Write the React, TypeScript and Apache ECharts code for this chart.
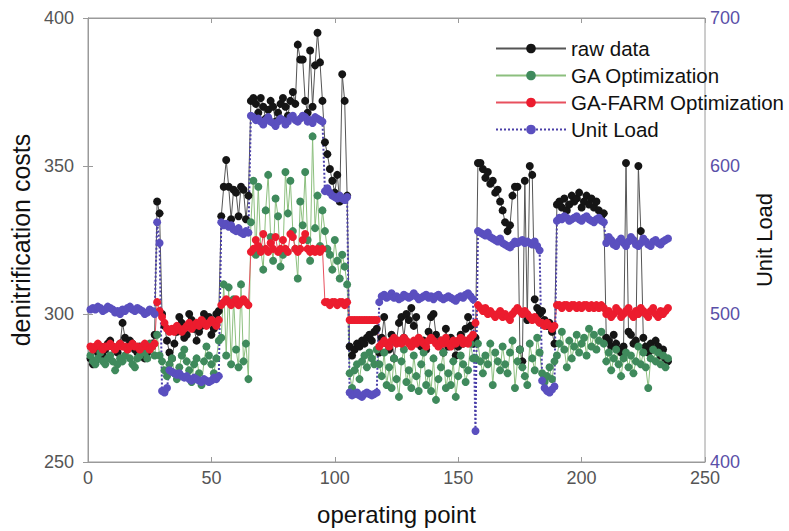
import React, { useEffect, useRef } from "react";
import * as echarts from "echarts";

const xTicks = [0, 50, 100, 150, 200, 250];
const leftTicks = [250, 300, 350, 400];
const rightTicks = [400, 500, 600, 700];
const seriesNames = ["raw data", "GA Optimization", "GA-FARM Optimization", "Unit Load"];

const rawData = [
  285,283,284,287,289,286,288,290,291,289,288,287,290,297,292,289,291,290,288,287,289,286,285,287,289,290,293,
  338,334,
  300,296,291,287,285,290,294,299,297,292,293,300,298,295,291,294,296,300,297,299,293,295,300,301,
  333,343,352,343,332,342,341,333,343,342,332,340,
  372,373,371,368,373,370,366,369,372,370,365,368,371,373,370,367,372,375,371,391,386,386,372,368,389,370,384,395,385,372,
  358,354,349,345,341,347,338,381,372,340,
  289,286,288,290,289,291,290,292,293,291,294,295,
  287,292,299,290,288,293,285,291,297,299,292,300,298,302,296,299,290,289,291,288,294,299,300,293,290,291,287,295,289,292,291,286,289,293,290,295,299,296,290,
  292,
  351,351,349,346,348,344,345,341,342,338,335,331,328,330,340,343,343,288,284,345,298,350,347,305,302,300,
  301,298,296,297,294,290,
  337,338,336,339,335,337,340,338,339,341,336,338,340,337,339,336,338,335,333,334,
  292,291,289,293,290,288,287,289,351,294,293,290,291,350,328,292,289,287,290,288,291,289,286,288,285,284,
];

const gaData = [
  286,284,283,285,287,284,283,285,286,284,281,283,285,284,286,288,285,283,282,285,286,288,287,285,290,289,286,
  293,286,
  284,281,279,283,285,280,278,282,286,288,284,281,277,283,285,280,276,284,289,286,283,280,285,291,
  292,310,286,309,283,305,288,282,310,284,290,278,
  331,345,320,343,322,315,335,347,326,318,339,333,316,320,348,334,345,328,322,312,338,330,348,325,318,360,329,340,323,335,
  328,322,320,315,325,318,312,320,316,310,
  280,275,281,283,278,284,286,282,287,285,283,288,
  283,279,287,276,282,275,285,278,272,284,288,277,281,275,286,279,274,283,287,276,280,274,285,271,278,282,287,275,280,276,284,272,279,286,283,277,281,290,285,
  285,
  290,284,280,286,283,290,276,287,284,281,289,283,280,287,291,275,284,288,282,279,276,290,285,281,292,287,
  280,277,279,282,278,284,
  286,290,294,288,282,291,285,289,293,287,290,292,286,295,289,293,288,291,294,290,
  284,287,281,285,288,283,279,285,287,282,286,280,284,289,283,287,282,275,285,288,284,287,283,286,282,285,
];

const farmData = [
  289,288,289,290,289,288,289,289,290,289,288,289,290,289,289,288,289,290,289,289,288,289,290,289,288,289,290,
  304,301,
  299,297,295,294,295,294,296,295,294,295,296,297,295,296,297,296,298,297,296,297,298,297,296,298,
  303,304,305,304,303,304,305,303,304,305,304,303,
  321,322,325,323,321,327,322,321,324,322,326,321,322,325,322,321,327,326,322,321,322,325,327,322,321,322,321,322,321,322,
  304,304,303,304,304,303,304,304,303,304,
  298,298,298,298,298,298,298,298,298,298,298,298,
  289,290,291,290,289,291,292,290,291,290,292,291,290,289,291,290,292,291,290,289,291,292,291,290,289,291,290,292,290,289,291,290,291,292,290,291,290,292,293,
  297,
  303,302,301,302,300,301,300,299,300,301,299,300,299,298,300,301,302,301,300,301,300,299,298,299,298,297,
  297,296,297,296,295,296,
  303,303,302,303,303,302,303,303,302,303,302,303,303,302,303,302,303,302,303,302,
  300,301,299,300,302,301,299,300,301,302,300,299,301,300,302,301,300,299,301,302,300,299,301,300,301,302,
];

const unitLoad = [
  503,504,503,505,504,502,503,505,504,503,501,502,500,503,502,504,505,503,502,504,503,502,500,501,503,502,500,
  562,548,
  448,447,450,462,461,460,459,460,458,457,458,456,455,457,456,455,454,456,455,454,455,457,456,458,
  562,560,561,559,560,557,556,558,555,554,556,555,
  634,633,631,632,630,628,631,633,630,629,627,630,632,631,628,630,633,634,631,630,632,634,633,630,631,629,633,632,631,630,
  583,585,582,580,579,578,580,578,577,579,
  447,445,446,447,445,444,446,447,446,445,446,447,
  508,512,513,511,512,514,511,512,510,511,513,512,511,512,514,512,510,511,512,513,511,512,510,512,513,511,510,511,512,511,510,509,511,512,511,513,514,512,510,
  421,
  556,555,554,553,555,552,551,550,549,551,548,547,546,545,547,549,548,549,550,548,549,548,547,549,546,543,
  455,450,448,447,449,451,
  563,565,564,566,565,563,564,565,566,564,563,565,566,564,563,562,564,565,563,562,
  548,552,550,547,546,549,551,548,546,549,552,550,547,546,548,551,549,547,546,549,550,548,547,549,550,551,
];

const toPairs = (arr: number[]) => arr.map((v, i) => [i + 1, v]);

const FONT = "'Liberation Sans', Arial, sans-serif";

export default function App() {
  const ref = useRef<HTMLDivElement>(null);
  useEffect(() => {
    if (!ref.current) return;
    const chart = echarts.init(ref.current, undefined, { renderer: "svg" });
    const axisLine = { show: true, lineStyle: { color: "#9a9a9a", width: 1 } };
    const tick = { show: true, inside: true, length: 5, lineStyle: { color: "#9a9a9a" } };
    chart.setOption({
      animation: false,
      backgroundColor: "#ffffff",
      textStyle: { fontFamily: FONT },
      grid: { left: 88, right: 84, top: 18, bottom: 68, show: true, borderColor: "#9a9a9a", borderWidth: 1 },
      legend: {
        orient: "vertical",
        left: 490,
        top: 33,
        itemWidth: 70,
        itemHeight: 12,
        itemGap: 6,
        data: seriesNames,
        textStyle: { fontSize: 20.5, lineHeight: 21, color: "#111", fontFamily: FONT },
      },
      xAxis: [
        {
          type: "value",
          min: xTicks[0],
          max: xTicks[xTicks.length - 1],
          interval: 50,
          name: "operating point",
          nameLocation: "middle",
          nameGap: 40,
          nameTextStyle: { fontSize: 24, color: "#111", fontFamily: FONT },
          axisLine,
          axisTick: tick,
          axisLabel: { fontSize: 18, color: "#555", margin: 7, fontFamily: FONT },
          splitLine: { show: false },
        },
        {
          type: "value",
          position: "top",
          min: 0,
          max: 250,
          interval: 50,
          axisLine,
          axisTick: tick,
          axisLabel: { show: false },
          splitLine: { show: false },
        },
      ],
      yAxis: [
        {
          type: "value",
          min: leftTicks[0],
          max: leftTicks[leftTicks.length - 1],
          interval: 50,
          name: "denitrification costs",
          nameLocation: "middle",
          nameGap: 54,
          nameRotate: 90,
          nameTextStyle: { fontSize: 25, color: "#111", fontFamily: FONT },
          axisLine,
          axisTick: tick,
          axisLabel: { fontSize: 18, color: "#555", margin: 14, fontFamily: FONT },
          splitLine: { show: false },
        },
        {
          type: "value",
          position: "right",
          min: rightTicks[0],
          max: rightTicks[rightTicks.length - 1],
          interval: 100,
          name: "Unit Load",
          nameLocation: "middle",
          nameGap: 48,
          nameRotate: 90,
          nameTextStyle: { fontSize: 22, color: "#111", fontFamily: FONT },
          axisLine,
          axisTick: tick,
          axisLabel: { fontSize: 18, color: "#5a4fa8", margin: 5, fontFamily: FONT },
          splitLine: { show: false },
        },
      ],
      series: [
        {
          name: seriesNames[0],
          type: "line",
          data: toPairs(rawData),
          yAxisIndex: 0,
          symbol: "circle",
          symbolSize: 8,
          itemStyle: { color: "#151515" },
          lineStyle: { color: "#555", width: 1 },
        },
        {
          name: seriesNames[1],
          type: "line",
          data: toPairs(gaData),
          yAxisIndex: 0,
          symbol: "circle",
          symbolSize: 8,
          itemStyle: { color: "#3f8a5c" },
          lineStyle: { color: "#8cbf7e", width: 1 },
        },
        {
          name: seriesNames[2],
          type: "line",
          data: toPairs(farmData),
          yAxisIndex: 0,
          symbol: "circle",
          symbolSize: 8,
          itemStyle: { color: "#ec1c2e" },
          lineStyle: { color: "#e8505e", width: 1 },
        },
        {
          name: seriesNames[3],
          type: "line",
          data: toPairs(unitLoad),
          yAxisIndex: 1,
          symbol: "circle",
          symbolSize: 8,
          itemStyle: { color: "#5a4fbf" },
          lineStyle: { color: "#4a3fa8", width: 2, type: [2, 2] },
        },
      ],
    });
    return () => chart.dispose();
  }, []);
  return (
    <div
      ref={ref}
      style={{ position: "absolute", left: 0, top: 0, width: 789, height: 531 }}
    />
  );
}
